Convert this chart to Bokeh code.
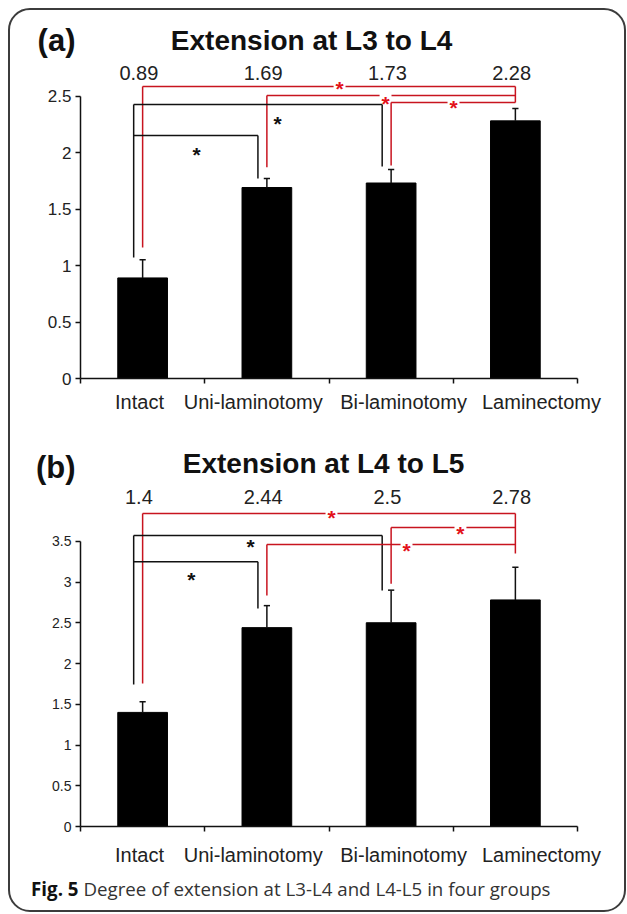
from bokeh.plotting import figure
from bokeh.models import Range1d, FixedTicker, Column
from bokeh.core.properties import value
from bokeh.embed import file_html
from bokeh.resources import INLINE

# ---------------- data ----------------
categories = ["Intact", "Uni-laminotomy", "Bi-laminotomy", "Laminectomy"]
category_label_x = [0.475, 1.39, 2.60, 3.71]

a_tag = "(a)"
a_title = "Extension at L3 to L4"
a_means = [0.89, 1.69, 1.73, 2.28]
a_err = [0.16, 0.08, 0.12, 0.11]
a_yticks = [0, 0.5, 1, 1.5, 2, 2.5]
a_ytick_labels = ["0", "0.5", "1", "1.5", "2", "2.5"]
a_value_labels = ["0.89", "1.69", "1.73", "2.28"]
# significance brackets
a_br_left = [0, 1, 2, 0, 0]
a_br_right = [3, 3, 3, 2, 1]
a_br_level = [2.584, 2.504, 2.442, 2.425, 2.15]
a_br_color = ["red", "red", "red", "black", "black"]
a_star_x = [2.085, 2.455, 3.002, 1.586, 0.934]
a_star_y = [2.619, 2.487, 2.451, 2.31, 2.035]
a_leg_bottom_black = [1.07, 1.77, 1.876, None]
a_leg_bottom_red = [1.16, 1.87, 1.885, 2.442]

b_tag = "(b)"
b_title = "Extension at L4 to L5"
b_means = [1.4, 2.44, 2.5, 2.78]
b_err = [0.13, 0.27, 0.40, 0.40]
b_yticks = [0, 0.5, 1, 1.5, 2, 2.5, 3, 3.5]
b_ytick_labels = ["0", "0.5", "1", "1.5", "2", "2.5", "3", "3.5"]
b_value_labels = ["1.4", "2.44", "2.5", "2.78"]
b_br_left = [0, 2, 1, 0, 0]
b_br_right = [3, 3, 3, 2, 1]
b_br_level = [3.84, 3.669, 3.46, 3.57, 3.25]
b_br_color = ["red", "red", "red", "black", "black"]
b_star_x = [2.02, 3.058, 2.624, 1.368, 0.893]
b_star_y = [3.865, 3.669, 3.46, 3.509, 3.104]
b_leg_bottom_black = [1.742, 2.675, 2.896, None]
b_leg_bottom_red = [1.755, 2.834, 2.98, 3.35]

caption_bold = "Fig. 5"
caption_text = "Degree of extension at L3-L4 and L4-L5 in four groups"

# ---------------- style ----------------
FONT = "Liberation Sans"
RED_LINE = "#c8141f"
RED_STAR = "#e3121a"
INK = "#111111"
LEG_OFF = {"black": -0.072, "red": 0.0}
LINE_COL = {"black": INK, "red": RED_LINE}
GAP = 0.048
FIG_W = 614
FRAME_L = 70
FRAME_R = 47


def base(height, y_end, bottom_border):
    p = figure(width=FIG_W, height=height, output_backend="svg",
               toolbar_location=None, x_range=Range1d(0, 4),
               y_range=Range1d(0, y_end),
               min_border_left=FRAME_L, min_border_right=FRAME_R,
               min_border_top=0, min_border_bottom=bottom_border)
    p.background_fill_color = None
    p.border_fill_color = None
    p.outline_line_color = None
    p.xgrid.visible = False
    p.ygrid.visible = False
    return p


def strip(height, side_text, side_y, side_font, side_size, side_style, standoff):
    """A text-only band; the out-of-frame text on the left is carried by the
    left axis as its single tick label."""
    p = base(height, height, 0)
    p.xaxis.visible = False
    ya = p.yaxis[0]
    ya.ticker = FixedTicker(ticks=[side_y], minor_ticks=[])
    ya.major_label_overrides = {side_y: side_text}
    ya.axis_line_color = None
    ya.major_tick_line_color = None
    ya.minor_tick_line_color = None
    ya.major_tick_out = 0
    ya.major_tick_in = 0
    ya.major_label_standoff = standoff
    ya.major_label_text_font = side_font
    ya.major_label_text_font_size = side_size
    ya.major_label_text_font_style = side_style
    ya.major_label_text_color = "#111111"
    return p


def header(tag, title, height, tag_y, title_y, title_x):
    p = strip(height, tag, tag_y, FONT, "31px", "bold", 5)
    p.text(x=[title_x], y=[title_y], text=[title], text_align="center",
           text_baseline="middle", text_font=value(FONT),
           text_font_size="28px", text_font_style="bold", text_color="#111111")
    return p


def build_panel(means, err, yticks, ytick_labels, value_labels,
                br_left, br_right, br_level, br_color, star_x, star_y,
                leg_bottom_black, leg_bottom_red,
                height, frame_h, px_per_unit, bottom_border,
                ytick_size, cat_standoff, label_y):
    p = base(height, frame_h / px_per_unit, bottom_border)

    xa = p.xaxis[0]
    xa.ticker = FixedTicker(ticks=category_label_x, minor_ticks=[0, 1, 2, 3, 4])
    xa.major_label_overrides = {x: c for x, c in zip(category_label_x, categories)}
    xa.major_tick_out = 0
    xa.major_tick_in = 0
    xa.minor_tick_out = 5
    xa.minor_tick_in = 0
    xa.axis_line_width = 1.5
    xa.axis_line_color = INK
    xa.minor_tick_line_width = 1.5
    xa.minor_tick_line_color = INK
    xa.major_label_text_font = FONT
    xa.major_label_text_font_size = "20px"
    xa.major_label_text_color = "#222222"
    xa.major_label_standoff = cat_standoff

    ya = p.yaxis[0]
    ya.ticker = FixedTicker(ticks=yticks, minor_ticks=[])
    ya.major_label_overrides = {t: s for t, s in zip(yticks, ytick_labels)}
    ya.bounds = (yticks[0], yticks[-1])
    ya.major_tick_out = 5
    ya.major_tick_in = 0
    ya.axis_line_width = 1.5
    ya.axis_line_color = INK
    ya.major_tick_line_width = 1.5
    ya.major_tick_line_color = INK
    ya.major_label_text_font = FONT
    ya.major_label_text_font_size = ytick_size
    ya.major_label_text_color = "#222222"
    ya.major_label_standoff = 4

    xs = [i + 0.5 for i in range(4)]
    p.vbar(x=xs, top=means, width=0.4, bottom=0, fill_color="black",
           line_color="black", line_width=1)
    tops = [m + e for m, e in zip(means, err)]
    p.segment(x0=xs, y0=means, x1=xs, y1=tops, line_color=INK, line_width=1.5)
    p.segment(x0=[x - 0.025 for x in xs], y0=tops, x1=[x + 0.025 for x in xs],
              y1=tops, line_color=INK, line_width=1.5)

    bottoms = {"black": leg_bottom_black, "red": leg_bottom_red}
    for col in ("black", "red"):
        for g in range(4):
            lv = [l for a, b, l, c in zip(br_left, br_right, br_level, br_color)
                  if c == col and (a == g or b == g)]
            if not lv or bottoms[col][g] is None:
                continue
            x = g + 0.5 + LEG_OFF[col]
            p.segment(x0=[x], y0=[max(lv)], x1=[x], y1=[bottoms[col][g]],
                      line_color=LINE_COL[col], line_width=1.5)
    for a, b, l, c, sx in zip(br_left, br_right, br_level, br_color, star_x):
        x0 = a + 0.5 + LEG_OFF[c]
        x1 = b + 0.5 + LEG_OFF[c]
        if c == "red":
            p.segment(x0=[x0, sx + GAP], y0=[l, l], x1=[sx - GAP, x1], y1=[l, l],
                      line_color=LINE_COL[c], line_width=1.5)
        else:
            p.segment(x0=[x0], y0=[l], x1=[x1], y1=[l],
                      line_color=LINE_COL[c], line_width=1.5)
    for c, sx, sy in zip(br_color, star_x, star_y):
        p.text(x=[sx], y=[sy], text=["*"], text_align="center",
               text_baseline="middle", y_offset=6,
               text_font=value(FONT), text_font_style="bold",
               text_font_size="21px" if c == "black" else "21px",
               text_color=INK if c == "black" else RED_STAR)

    p.text(x=[x - 0.03 for x in xs], y=[label_y] * 4, text=value_labels,
           text_align="center", text_baseline="middle",
           text_font=value(FONT), text_font_size="20px", text_color="#222222")
    return p


ha = header(a_tag, a_title, height=48, tag_y=18, title_y=18, title_x=1.86)

pa = build_panel(a_means, a_err, a_yticks, a_ytick_labels,
                 a_value_labels, a_br_left, a_br_right, a_br_level, a_br_color,
                 a_star_x, a_star_y, a_leg_bottom_black, a_leg_bottom_red,
                 height=382, frame_h=320, px_per_unit=113, bottom_border=62,
                 ytick_size="17px", cat_standoff=7, label_y=2.70)

hb = header(b_tag, b_title, height=45, tag_y=18, title_y=22, title_x=1.956)

pb = build_panel(b_means, b_err, b_yticks, b_ytick_labels,
                 b_value_labels, b_br_left, b_br_right, b_br_level, b_br_color,
                 b_star_x, b_star_y, b_leg_bottom_black, b_leg_bottom_red,
                 height=385, frame_h=341, px_per_unit=81.5, bottom_border=44,
                 ytick_size="14px", cat_standoff=12, label_y=4.04)

cap = strip(40, caption_bold, 22, "Open Sans", "18.7px", "bold", 2)
cap.text(x=[0.024], y=[22], text=[caption_text], text_align="left",
         text_baseline="middle", text_font=value("Open Sans"),
         text_font_size="18.7px", text_color="#333333")

layout = Column(children=[ha, pa, hb, pb, cap], spacing=0, margin=(8, 0, 0, 8),
                styles={"border": "2px solid #3c3c3c", "border-radius": "22px"})

open("out.html", "w").write(file_html(layout, INLINE))
